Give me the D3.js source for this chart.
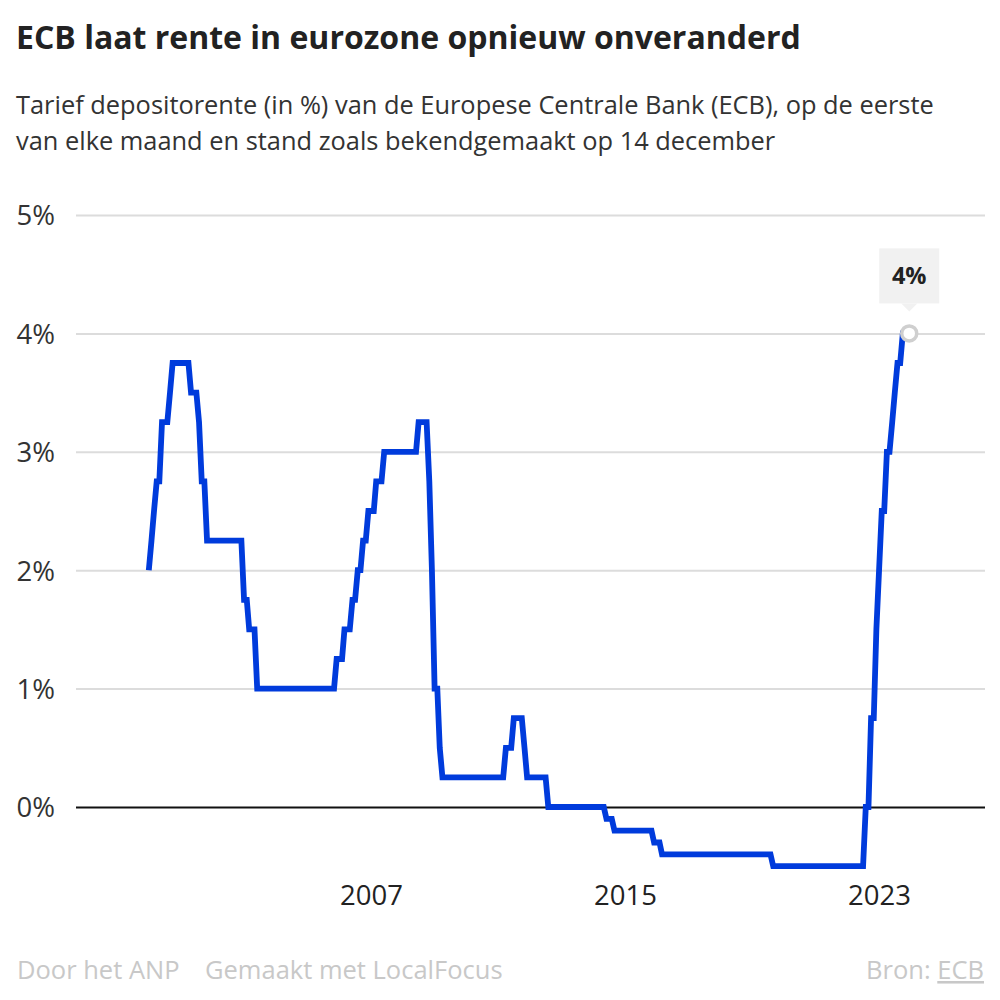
<!DOCTYPE html>
<html>
<head>
<meta charset="utf-8">
<script src="https://cdn.jsdelivr.net/npm/d3@7"></script>
<style>
  html, body { margin: 0; padding: 0; background: #fff; }
  svg { display: block; font-family: "Open Sans", sans-serif; }
</style>
</head>
<body>
<svg id="chart" width="1000" height="1000"></svg>
<script>
// ---- Data: ECB deposit rate (%), first of each month, Jan..Dec per year ----
const years = [2000, 2001, 2002, 2003, 2004, 2005, 2006, 2007, 2008, 2009, 2010, 2011,
               2012, 2013, 2014, 2015, 2016, 2017, 2018, 2019, 2020, 2021, 2022, 2023];
const monthlyRates = [
  [2.00, 2.25, 2.50, 2.75, 2.75, 3.25, 3.25, 3.25, 3.50, 3.75, 3.75, 3.75], // 2000
  [3.75, 3.75, 3.75, 3.75, 3.50, 3.50, 3.50, 3.25, 2.75, 2.75, 2.25, 2.25], // 2001
  [2.25, 2.25, 2.25, 2.25, 2.25, 2.25, 2.25, 2.25, 2.25, 2.25, 2.25, 2.25], // 2002
  [1.75, 1.75, 1.50, 1.50, 1.50, 1.00, 1.00, 1.00, 1.00, 1.00, 1.00, 1.00], // 2003
  [1.00, 1.00, 1.00, 1.00, 1.00, 1.00, 1.00, 1.00, 1.00, 1.00, 1.00, 1.00], // 2004
  [1.00, 1.00, 1.00, 1.00, 1.00, 1.00, 1.00, 1.00, 1.00, 1.00, 1.00, 1.25], // 2005
  [1.25, 1.25, 1.50, 1.50, 1.50, 1.75, 1.75, 2.00, 2.00, 2.25, 2.25, 2.50], // 2006
  [2.50, 2.50, 2.75, 2.75, 2.75, 3.00, 3.00, 3.00, 3.00, 3.00, 3.00, 3.00], // 2007
  [3.00, 3.00, 3.00, 3.00, 3.00, 3.00, 3.25, 3.25, 3.25, 3.25, 2.75, 2.00], // 2008
  [1.00, 1.00, 0.50, 0.25, 0.25, 0.25, 0.25, 0.25, 0.25, 0.25, 0.25, 0.25], // 2009
  [0.25, 0.25, 0.25, 0.25, 0.25, 0.25, 0.25, 0.25, 0.25, 0.25, 0.25, 0.25], // 2010
  [0.25, 0.25, 0.25, 0.50, 0.50, 0.50, 0.75, 0.75, 0.75, 0.75, 0.50, 0.25], // 2011
  [0.25, 0.25, 0.25, 0.25, 0.25, 0.25, 0.25, 0.00, 0.00, 0.00, 0.00, 0.00], // 2012
  [0.00, 0.00, 0.00, 0.00, 0.00, 0.00, 0.00, 0.00, 0.00, 0.00, 0.00, 0.00], // 2013
  [0.00, 0.00, 0.00, 0.00, 0.00, -0.10, -0.10, -0.10, -0.20, -0.20, -0.20, -0.20], // 2014
  [-0.20, -0.20, -0.20, -0.20, -0.20, -0.20, -0.20, -0.20, -0.20, -0.20, -0.20, -0.30], // 2015
  [-0.30, -0.30, -0.40, -0.40, -0.40, -0.40, -0.40, -0.40, -0.40, -0.40, -0.40, -0.40], // 2016
  [-0.40, -0.40, -0.40, -0.40, -0.40, -0.40, -0.40, -0.40, -0.40, -0.40, -0.40, -0.40], // 2017
  [-0.40, -0.40, -0.40, -0.40, -0.40, -0.40, -0.40, -0.40, -0.40, -0.40, -0.40, -0.40], // 2018
  [-0.40, -0.40, -0.40, -0.40, -0.40, -0.40, -0.40, -0.40, -0.50, -0.50, -0.50, -0.50], // 2019
  [-0.50, -0.50, -0.50, -0.50, -0.50, -0.50, -0.50, -0.50, -0.50, -0.50, -0.50, -0.50], // 2020
  [-0.50, -0.50, -0.50, -0.50, -0.50, -0.50, -0.50, -0.50, -0.50, -0.50, -0.50, -0.50], // 2021
  [-0.50, -0.50, -0.50, -0.50, -0.50, -0.50, -0.50, 0.00, 0.00, 0.75, 0.75, 1.50], // 2022
  [2.00, 2.50, 2.50, 3.00, 3.00, 3.25, 3.50, 3.75, 3.75, 4.00, 4.00, 4.00]  // 2023
];
const latestDate = "2023-12-14";
const latestRate = 4.0;
const latestLabel = "4%";

const yTicks = [0, 1, 2, 3, 4, 5];
const yTickLabels = ["0%", "1%", "2%", "3%", "4%", "5%"];
const xTickYears = [2007, 2015, 2023];

const titleText = "ECB laat rente in eurozone opnieuw onveranderd";
const subtitleLines = [
  "Tarief depositorente (in %) van de Europese Centrale Bank (ECB), op de eerste",
  "van elke maand en stand zoals bekendgemaakt op 14 december"
];
const footerLeft = ["Door het ANP", "Gemaakt met LocalFocus"];
const footerSourceLabel = "Bron: ";
const footerSource = "ECB";

// ---- Build series ----
const series = [];
years.forEach((yr, i) => {
  monthlyRates[i].forEach((v, m) => series.push({ date: new Date(yr, m, 1), value: v }));
});
series.push({ date: d3.timeParse("%Y-%m-%d")(latestDate), value: latestRate });

// ---- Layout ----
const svg = d3.select("#chart");
const x = d3.scaleTime()
  .domain([new Date(2000, 0, 1), new Date(2024, 0, 1)])
  .range([148.8, 910.8]);
const y = d3.scaleLinear().domain([0, 5]).range([807, 215]);
const gridLeft = 76, gridRight = 985;

// Title & subtitle
svg.append("text").attr("x", 16).attr("y", 49)
  .attr("font-size", 32).attr("font-weight", 700).attr("fill", "#222")
  .text(titleText);
svg.selectAll("text.sub").data(subtitleLines).join("text")
  .attr("class", "sub").attr("x", 16).attr("y", (d, i) => 114 + i * 36)
  .attr("font-size", 25.4).attr("fill", "#333").text(d => d);

// Y grid
const yAxis = d3.axisLeft(y).tickValues(yTicks)
  .tickSize(-(gridRight - gridLeft))
  .tickFormat((d, i) => yTickLabels[i]);
const gy = svg.append("g").attr("transform", `translate(${gridLeft},0)`).call(yAxis);
gy.select(".domain").remove();
gy.selectAll(".tick line")
  .attr("stroke", d => d === 0 ? "#111" : "#dcdcdc")
  .attr("stroke-width", 2);
gy.selectAll(".tick text")
  .attr("x", -21).attr("dy", "0.36em")
  .attr("font-family", "Open Sans, sans-serif")
  .attr("font-size", 27.5).attr("fill", "#333");

// X axis labels
const xAxis = d3.axisBottom(x)
  .tickValues(xTickYears.map(yr => new Date(yr, 0, 1)))
  .tickSize(0).tickFormat(d3.timeFormat("%Y"));
const gx = svg.append("g").attr("transform", "translate(0,895)").call(xAxis);
gx.select(".domain").remove();
gx.selectAll(".tick text")
  .attr("dy", "0.36em").attr("y", 0)
  .attr("font-family", "Open Sans, sans-serif")
  .attr("font-size", 27.5).attr("fill", "#222");

// Line
const line = d3.line().x(d => x(d.date)).y(d => y(d.value));
svg.append("path").datum(series)
  .attr("fill", "none").attr("stroke", "#003bdc")
  .attr("stroke-width", 5.8).attr("stroke-linejoin", "miter")
  .attr("stroke-miterlimit", 4)
  .attr("d", line);

// Latest point marker & label
const last = series[series.length - 1];
const lx = x(last.date), ly = y(last.value);
svg.append("circle").attr("cx", lx).attr("cy", ly).attr("r", 7.5)
  .attr("fill", "#fff").attr("stroke", "#cfcfcf").attr("stroke-width", 3.5);
const boxW = 60, boxH = 55, boxBottom = ly - 30;
svg.append("rect").attr("x", lx - boxW / 2).attr("y", boxBottom - boxH)
  .attr("width", boxW).attr("height", boxH).attr("fill", "#f1f1f1");
svg.append("path")
  .attr("d", `M${lx - 8},${boxBottom} L${lx + 8},${boxBottom} L${lx},${boxBottom + 8} Z`)
  .attr("fill", "#f1f1f1");
svg.append("text").attr("x", lx).attr("y", boxBottom - boxH / 2)
  .attr("dy", "0.36em").attr("text-anchor", "middle")
  .attr("font-size", 23.5).attr("font-weight", 700).attr("fill", "#222")
  .text(latestLabel);

// Footer
const fy = 979;
svg.append("text").attr("x", 17).attr("y", fy)
  .attr("font-size", 25.5).attr("fill", "#c8c8c8").text(footerLeft[0]);
svg.append("text").attr("x", 205).attr("y", fy)
  .attr("font-size", 25.5).attr("fill", "#c8c8c8").text(footerLeft[1]);
const src = svg.append("text").attr("x", 984).attr("y", fy)
  .attr("text-anchor", "end").attr("font-size", 25.5).attr("fill", "#c8c8c8");
src.append("tspan").text(footerSourceLabel);
src.append("tspan").attr("text-decoration", "underline").text(footerSource);
</script>
</body>
</html>
